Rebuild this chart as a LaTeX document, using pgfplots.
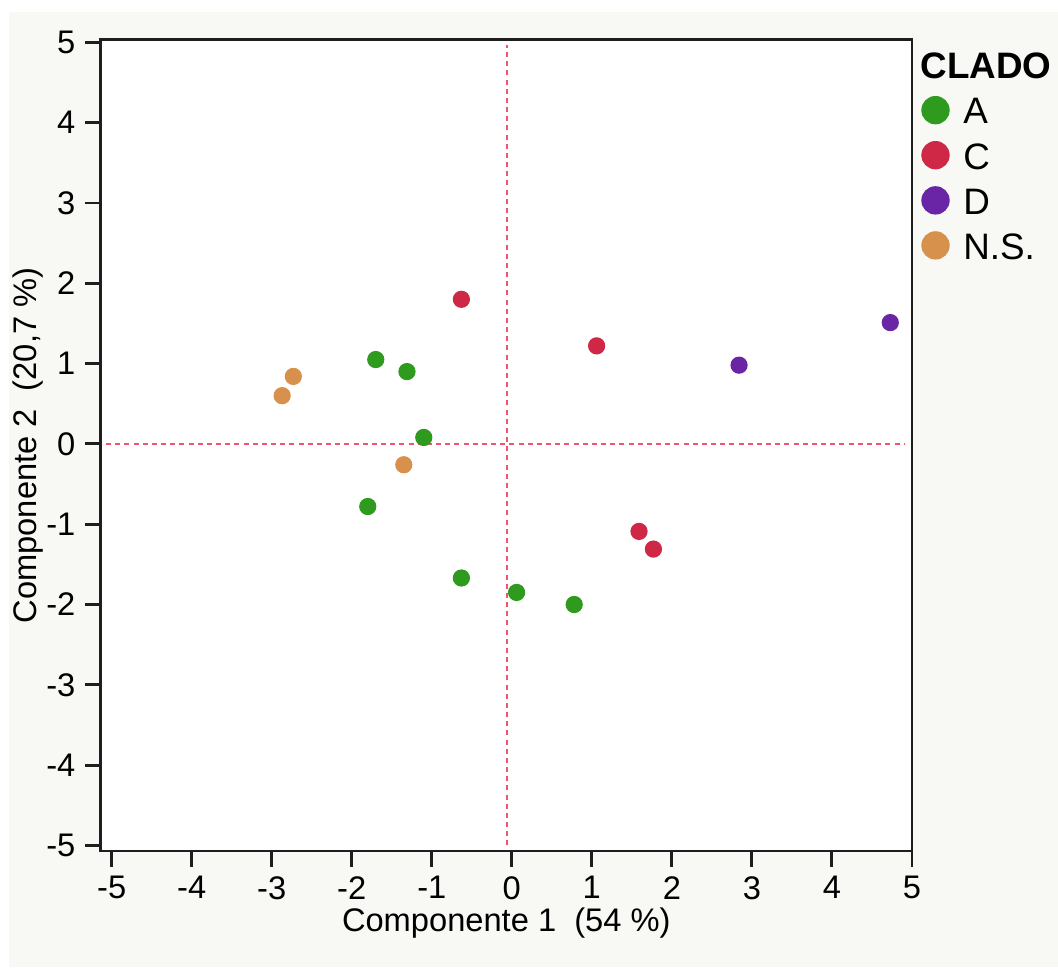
\documentclass[border=0pt]{standalone}
\usepackage{fontspec}
\setmainfont{Liberation Sans}
\usepackage{pgfplots}
\pgfplotsset{compat=1.18}
\definecolor{cladoA}{RGB}{46,154,30}
\definecolor{cladoC}{RGB}{206,40,70}
\definecolor{cladoD}{RGB}{106,36,166}
\definecolor{cladoNS}{RGB}{216,145,76}
\definecolor{guide}{RGB}{240,84,112}
\definecolor{pagebg}{RGB}{248,248,245}
\definecolor{axisink}{RGB}{30,30,30}

\begin{document}
\begin{tikzpicture}
% page background (sets the picture size)
\fill[white] (-36.25bp,-41.76bp) rectangle (344.6bp,306.36bp);
\fill[pagebg] (-33bp,-41.76bp) rectangle (344.6bp,302bp);
\begin{axis}[
  scale only axis,
  width=292bp, height=292bp,
  xmin=-5.1375, xmax=5,
  ymin=-5.07, ymax=5.03,
  xtick={-5,-4,...,5}, ytick={-5,-4,...,5},
  xtick pos=left, ytick pos=left,
  tick align=outside,
  major tick length=5.6bp,
  tick style={line width=1bp, color=axisink},
  axis line style={line width=1bp, color=axisink},
  axis background/.style={fill=white},
  font=\fontsize{11.8}{13.8}\selectfont,
  tick label style={font=\fontsize{11.8}{13.8}\selectfont},
  /pgf/number format/assume math mode=true,
  xlabel={Componente 1\ \ (54 \%)},
  ylabel={Componente 2\ \ (20,7 \%)},
  xlabel style={at={(axis description cs:0.5,-0.089)}, anchor=center},
  ylabel style={at={(axis description cs:-0.09,0.5)}, anchor=center},
  legend style={at={(1,1)}, anchor=north west, xshift=3.2bp, yshift=-20bp,
                draw=none, fill=none, inner sep=0pt, row sep=4.7bp,
                nodes={inner sep=0pt, anchor=west},
                font=\fontsize{13.3}{15}\selectfont},
  legend cell align=left,
  legend image code/.code={\fill[#1] (4.9bp,1.1bp) circle (4.9bp); \path (14.7bp,1.1bp);},
]
  % guide lines through the origin
  \addplot[guide, line width=0.7bp, dash pattern=on 1.8bp off 1.5bp, forget plot]
    coordinates {(-5.07,0) (4.92,0)};
  \addplot[guide, line width=0.7bp, dash pattern=on 1.8bp off 1.5bp, forget plot]
    coordinates {(-0.06,-5.0) (-0.06,4.97)};

  \addplot[only marks, mark=*, mark size=2.9bp, color=cladoA, mark options={draw=none, fill=cladoA}]
    coordinates {(-1.70,1.05) (-1.31,0.90) (-1.10,0.08) (-1.80,-0.78) (-0.63,-1.67) (0.06,-1.85) (0.78,-2.00)};
  \addlegendentry{A}
  \addplot[only marks, mark=*, mark size=2.9bp, color=cladoC, mark options={draw=none, fill=cladoC}]
    coordinates {(-0.63,1.80) (1.06,1.22) (1.59,-1.09) (1.77,-1.31)};
  \addlegendentry{C}
  \addplot[only marks, mark=*, mark size=2.9bp, color=cladoD, mark options={draw=none, fill=cladoD}]
    coordinates {(2.84,0.98) (4.73,1.51)};
  \addlegendentry{D}
  \addplot[only marks, mark=*, mark size=2.9bp, color=cladoNS, mark options={draw=none, fill=cladoNS}]
    coordinates {(-2.73,0.84) (-2.87,0.60) (-1.35,-0.26)};
  \addlegendentry{N.S.}
\end{axis}
\node[anchor=west, inner sep=0pt, font=\fontsize{13.3}{15}\selectfont\bfseries]
  at ([xshift=2.9bp, yshift=-9.2bp]current axis.north east) {CLADO};
\end{tikzpicture}
\end{document}
